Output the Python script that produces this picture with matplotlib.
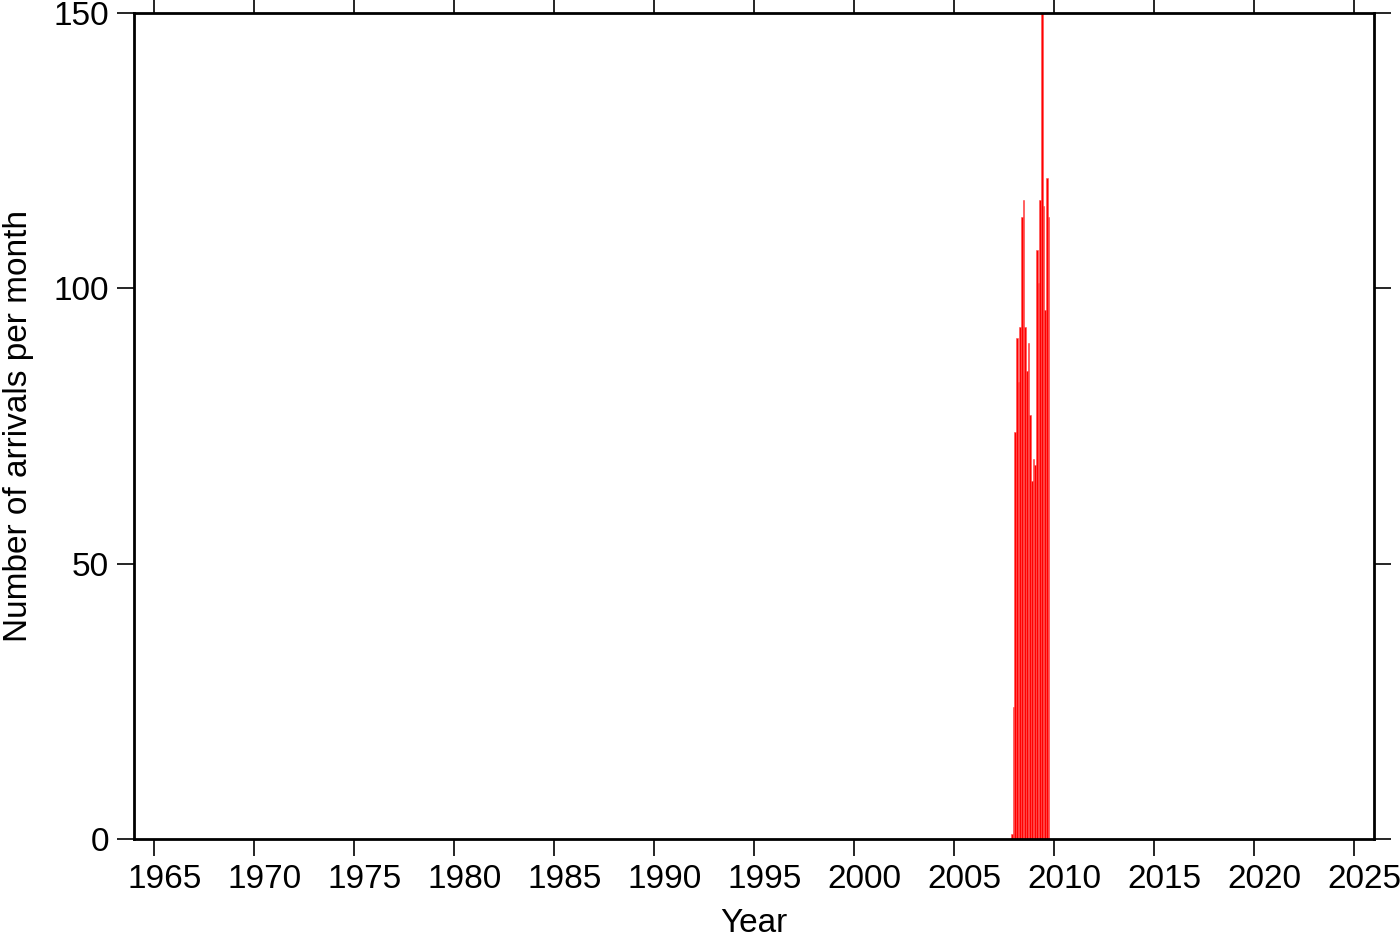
import numpy as np
import matplotlib.pyplot as plt
import matplotlib.transforms as mtransforms

plt.rcParams['font.family'] = ['Liberation Sans', 'DejaVu Sans']

# monthly arrival counts (first month: Nov 2007)
start_year = 2007
start_month = 11
counts = [1, 24, 74, 91, 83, 93, 113, 116, 93, 85, 90, 77,
          65, 69, 68, 107, 101, 116, 150, 115, 96, 120, 113]

year_ticks = list(range(1965, 2026, 5))
count_ticks = [0, 50, 100, 150]

# decimal year of the start of each month
idx = np.arange(len(counts)) + (start_month - 1)
x = start_year + idx / 12.0

fig = plt.figure(figsize=(14, 9.42), dpi=100)
ax = fig.add_axes([0.0959, 0.109, 0.8857, 0.8775])

ax.bar(x, counts, width=1 / 12, align='edge', color='#ff0000',
       edgecolor='#ff5050', linewidth=0.4)

ax.set_xlim(1964.0, 2026.0)
ax.set_ylim(0, 150)
ax.set_xticks(year_ticks)
ax.set_yticks(count_ticks)

for s in ax.spines.values():
    s.set_linewidth(2)
ax.tick_params(axis='both', which='major', direction='out', length=12,
               width=1.2, labelsize=24, pad=6,
               top=True, right=True, labeltop=False, labelright=False)

# year labels sit a little right of their ticks in the original
shift = mtransforms.ScaledTranslation(10 / 100, 0, fig.dpi_scale_trans)
for lab in ax.get_xticklabels():
    lab.set_transform(lab.get_transform() + shift)

ax.set_xlabel('Year', fontsize=24, labelpad=9)
ax.set_ylabel('Number of arrivals per month', fontsize=24, labelpad=14)

fig.savefig('out.png', dpi=100)
